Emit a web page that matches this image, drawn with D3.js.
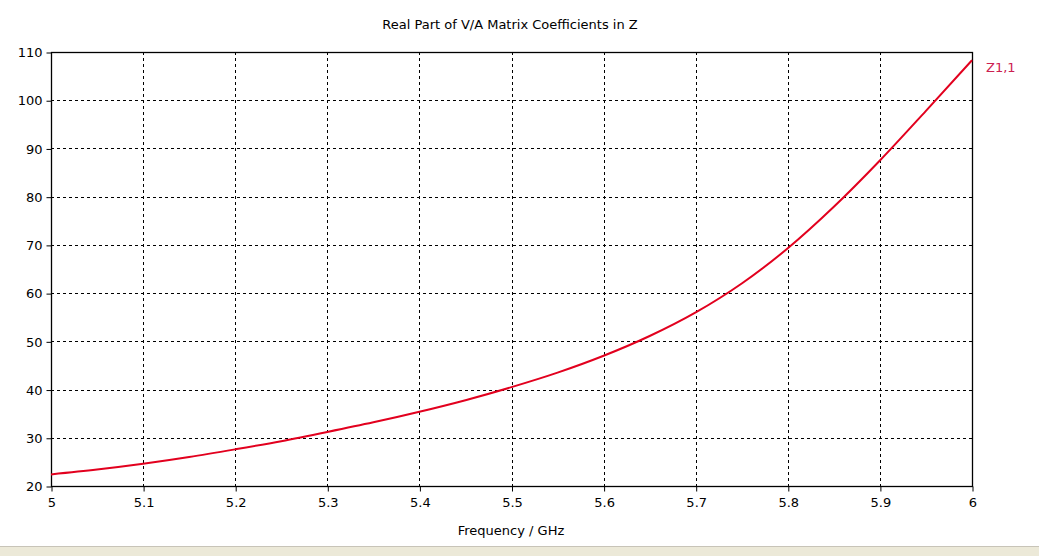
<!DOCTYPE html>
<html>
<head>
<meta charset="utf-8">
<script src="https://cdn.jsdelivr.net/npm/d3@7"></script>
<style>
  body { margin: 0; background: #fff; }
  svg { display: block; font-family: "DejaVu Sans", Tahoma, sans-serif; }
</style>
</head>
<body>
<svg width="1039" height="556"></svg>
<script>
// frequency samples (GHz) and Re(Z1,1)
const freq = [5.0, 5.05, 5.1, 5.15, 5.2, 5.25, 5.3, 5.35, 5.4, 5.45, 5.5,
              5.55, 5.6, 5.65, 5.7, 5.75, 5.8, 5.85, 5.9, 5.95, 6.0];
const z11 = [22.4, 23.4, 24.6, 26.0, 27.6, 29.3, 31.2, 33.2, 35.4, 37.8, 40.5,
             43.5, 47.0, 51.1, 56.0, 62.0, 69.3, 77.9, 87.5, 97.8, 108.3];
const xTicks = [5, 5.1, 5.2, 5.3, 5.4, 5.5, 5.6, 5.7, 5.8, 5.9, 6];
const yTicks = [20, 30, 40, 50, 60, 70, 80, 90, 100, 110];
const seriesName = "Z1,1";

const svg = d3.select("svg");
const width = +svg.attr("width");
const height = +svg.attr("height");

// plot box
const plotLeft = 51, plotRight = 972, plotTop = 52, plotBottom = 486;

const x = d3.scaleLinear().domain([5, 6]).range([plotLeft, plotRight]);
const y = d3.scaleLinear().domain([20, 110]).range([plotBottom, plotTop]);

// dashed grid
svg.append("g")
    .selectAll("line")
    .data(xTicks.slice(1, -1))
    .join("line")
    .attr("x1", d => Math.round(x(d)) + 0.5)
    .attr("x2", d => Math.round(x(d)) + 0.5)
    .attr("y1", plotTop)
    .attr("y2", plotBottom)
    .attr("stroke", "#000")
    .attr("stroke-dasharray", "3,3");

svg.append("g")
    .selectAll("line")
    .data(yTicks.slice(1, -1))
    .join("line")
    .attr("x1", plotLeft)
    .attr("x2", plotRight)
    .attr("y1", d => Math.round(y(d)) + 0.5)
    .attr("y2", d => Math.round(y(d)) + 0.5)
    .attr("stroke", "#000")
    .attr("stroke-dasharray", "3,3");

// axes
const xAxis = svg.append("g")
    .attr("transform", `translate(0.5,${plotBottom + 0.5})`)
    .call(d3.axisBottom(x).tickValues(xTicks).tickFormat(d3.format("")).tickSize(5).tickPadding(6));
const yAxis = svg.append("g")
    .attr("transform", `translate(${plotLeft + 0.5},0.5)`)
    .call(d3.axisLeft(y).tickValues(yTicks).tickSize(5).tickPadding(4));

[xAxis, yAxis].forEach(g => {
    g.select(".domain").remove();
    g.selectAll("text").attr("fill", "#000").style("font-size", "13px").style("font-family", "DejaVu Sans, sans-serif");
    g.selectAll("line").attr("stroke", "#000");
});

// frame
svg.append("rect")
    .attr("x", plotLeft + 0.5)
    .attr("y", plotTop + 0.5)
    .attr("width", plotRight - plotLeft)
    .attr("height", plotBottom - plotTop)
    .attr("fill", "none")
    .attr("stroke", "#000")
    .attr("stroke-width", 1.3);

// curve
const line = d3.line()
    .x((d, i) => x(freq[i]))
    .y(d => y(d))
    .curve(d3.curveMonotoneX);

svg.append("path")
    .datum(z11)
    .attr("d", line)
    .attr("fill", "none")
    .attr("stroke", "#e2001e")
    .attr("stroke-width", 2);

// series label
svg.append("text")
    .attr("x", 986)
    .attr("y", y(z11[z11.length - 1]) + 12)
    .attr("fill", "#cc2050")
    .style("font-size", "13px")
    .text(seriesName);

// titles
svg.append("text")
    .attr("x", 510)
    .attr("y", 29)
    .attr("text-anchor", "middle")
    .style("font-size", "13px")
    .text("Real Part of V/A Matrix Coefficients in Z");

svg.append("text")
    .attr("x", 511)
    .attr("y", 535)
    .attr("text-anchor", "middle")
    .style("font-size", "13px")
    .text("Frequency / GHz");

// window strip at the bottom edge
svg.append("rect")
    .attr("x", 0)
    .attr("y", 546)
    .attr("width", width)
    .attr("height", height - 546)
    .attr("fill", "#ece9d8");
svg.append("line")
    .attr("x1", 0)
    .attr("x2", width)
    .attr("y1", 546.5)
    .attr("y2", 546.5)
    .attr("stroke", "#c8c4b8");
</script>
</body>
</html>
